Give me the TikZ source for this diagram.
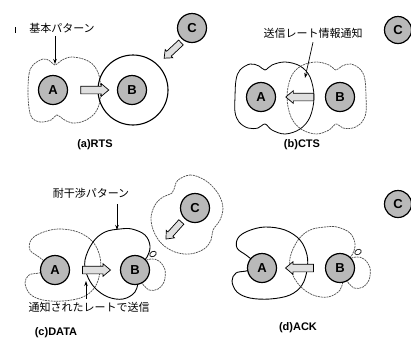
\documentclass[tikz,border=0pt]{standalone}
\usepackage{fontspec}
\setsansfont{Liberation Sans}
\newfontfamily\jpfont{Noto Sans CJK JP}
\usetikzlibrary{shapes.arrows,arrows.meta,calc}
\tikzset{
  station/.style={circle, draw=black, line width=1.2pt, fill=gray!55, minimum size=29pt, inner sep=0pt,
    font=\sffamily\bfseries\fontsize{13}{13}\selectfont},
  smallstation/.style={station, minimum size=27pt},
  fatarrow/.style={single arrow, draw=black, line width=0.7pt, fill=gray!25, minimum height=28pt,
    minimum width=12pt, single arrow head extend=2.5pt, single arrow tip angle=80,
    inner xsep=0pt, inner ysep=3.5pt},
  smallfat/.style={fatarrow, minimum height=23pt, minimum width=10.5pt, inner ysep=3pt, single arrow head extend=2.2pt},
  jlabel/.style={font=\jpfont\fontsize{11}{11}\selectfont, inner sep=0pt},
  caption/.style={font=\sffamily\bfseries\fontsize{11}{11}\selectfont, inner sep=0pt},
  thinpat/.style={draw=black!70, line width=0.7pt, dash pattern=on 2pt off 0.8pt},
  solidpat/.style={draw=black, line width=0.9pt},
  bigring/.style={draw=black, line width=1.1pt},
  callout/.style={-{Stealth[length=5pt,width=3.5pt]}, line width=0.7pt},
}
\begin{document}
\begin{tikzpicture}[x=1pt,y=-1pt]
\useasboundingbox (0,0) rectangle (411,341);
% ---------- (a) RTS ----------
\coordinate (pAa) at (53,90);
\coordinate (pBa) at (132,90);
\draw[thinpat] plot[smooth cycle, tension=0.6] coordinates {(28,92) (29,74) (33,65) (43,59) (50,61) (55,65) (62,60) (72,57) (86,60) (95,67) (100,80) (100,100) (95,113) (84,121) (72,123) (63,119) (57,115) (51,120) (40,122) (32,118) (29,108)};
\draw[bigring] (133,90) circle (35);
\node[station] (Aa) at (pAa) {A};
\node[station] (Ba) at (pBa) {B};
\node[fatarrow] (fa) at ($(Aa)!0.5!(Ba)$) {};
\node[station] (Ca) at (192,28) {C};
\node[smallfat, rotate=223] (fca) at (174,49) {};
\node[jlabel] (lblA) at (62,28) {基本パターン};
\draw[line width=0.6pt] (15,27) -- (15,33);
\coordinate (dipA) at (55,64);
\draw[callout] ($(lblA.south -| dipA)+(0,3)$) -- (dipA);
\node[caption] (capa) at (95,145) {(a)RTS};
% ---------- (b) CTS ----------
\coordinate (pAb) at (261,97);
\coordinate (pBb) at (340,97);
\draw[solidpat, line width=0.8pt] plot[smooth cycle, tension=0.6] coordinates {(235,97) (236,80) (240,70) (250,64) (259,66) (265,70) (272,65) (285,62) (300,66) (310,77) (314,97) (310,117) (300,129) (285,134) (272,130) (265,124) (258,128) (248,128) (239,122) (235,112)};
\draw[thinpat] plot[smooth cycle, tension=0.6] coordinates {(366,97) (365,80) (361,70) (351,64) (342,66) (336,70) (329,65) (316,62) (301,66) (291,77) (287,97) (291,117) (301,129) (316,134) (329,130) (336,124) (343,128) (353,128) (362,122) (366,112)};
\node[station] (Ab) at (pAb) {A};
\node[station] (Bb) at (pBb) {B};
\node[fatarrow, rotate=180] (fb) at ($(Ab)!0.52!(Bb)$) {};
\node[smallstation] (Cb) at (398,30) {C};
\node[jlabel] (lblB) at (313,33) {送信レート情報通知};
\coordinate (tipB) at (305,78);
\draw[callout] ($(lblB.south)+(0,4)$) -- (tipB);
\node[caption] (capb) at (302,145) {(b)CTS};
% ---------- (c) DATA ----------
\coordinate (pAc) at (55,270);
\coordinate (pBc) at (135,270);
\draw[thinpat] plot[smooth, tension=0.6] coordinates {(48,264) (39,257) (30,250) (31,240) (41,233) (58,229) (78,232) (93,242) (100,257) (100,272) (95,287) (83,297) (63,301) (43,300) (30,294) (25,283) (29,275) (39,273) (49,270)};
\draw[solidpat] plot[smooth, tension=0.6] coordinates {(139,266) (147,257) (150,246) (145,235) (132,229) (120,229) (105,232) (93,242) (85,260) (87,275) (95,288) (108,297) (123,299) (135,292) (139,278)};
\draw[thinpat] plot[smooth, tension=0.6] coordinates {(141,262) (151,259) (159,261) (165,270) (164,282) (158,289) (149,290) (141,282)};
\draw[line width=0.7pt] (153,254) ellipse [x radius=3.5, y radius=2.5, rotate=30];
\draw[thinpat] plot[smooth cycle, tension=0.6] coordinates {(178,180) (190,175) (203,179) (213,187) (220,197) (223,208) (220,220) (213,230) (211,240) (204,249) (190,254) (175,252) (162,244) (154,232) (151,218) (155,205) (163,197) (172,193) (175,186)};
\node[station] (Ac) at (pAc) {A};
\node[station] (Bc) at (pBc) {B};
\node[fatarrow] (fc) at ($(Ac)!0.49!(Bc)$) {};
\node[station] (Cc) at (195,208) {C};
\node[smallfat, rotate=228] (fcc) at (175,229) {};
\node[jlabel] (lblC1) at (91,193) {耐干渉パターン};
\coordinate (topC) at (117,230);
\draw[callout] ($(lblC1.south -| topC)+(0,6)$) -- (topC);
\node[jlabel] (lblC2) at (89,307) {通知されたレートで送信};
\coordinate (arrC) at (86,281);
\draw[callout] ($(lblC2.north -| arrC)+(0,-3)$) -- (arrC);
\node[caption] (capc) at (56,333) {(c)DATA};
% ---------- (d) ACK ----------
\coordinate (pAd) at (262,268);
\coordinate (pBd) at (340,268);
\draw[solidpat] plot[smooth, tension=0.6] coordinates {(255,262) (246,255) (237,248) (238,238) (248,231) (265,227) (285,230) (300,240) (307,255) (307,270) (302,285) (290,295) (270,299) (250,298) (237,292) (232,281) (236,273) (246,271) (256,268)};
\draw[thinpat] plot[smooth, tension=0.6] coordinates {(344,264) (352,255) (355,244) (350,233) (337,227) (325,227) (310,230) (298,240) (290,258) (292,273) (300,286) (313,295) (328,297) (340,290) (344,276)};
\draw[thinpat] plot[smooth, tension=0.6] coordinates {(346,260) (356,257) (364,259) (370,268) (369,280) (363,287) (354,288) (346,280)};
\draw[line width=0.6pt] (358,252) ellipse [x radius=3.5, y radius=2.5, rotate=30];
\node[station] (Ad) at (pAd) {A};
\node[station] (Bd) at (pBd) {B};
\node[fatarrow, rotate=180] (fd) at ($(Ad)!0.51!(Bd)$) {};
\node[smallstation] (Cd) at (398,204) {C};
\node[caption] (capd) at (298,328) {(d)ACK};
\end{tikzpicture}
\end{document}
